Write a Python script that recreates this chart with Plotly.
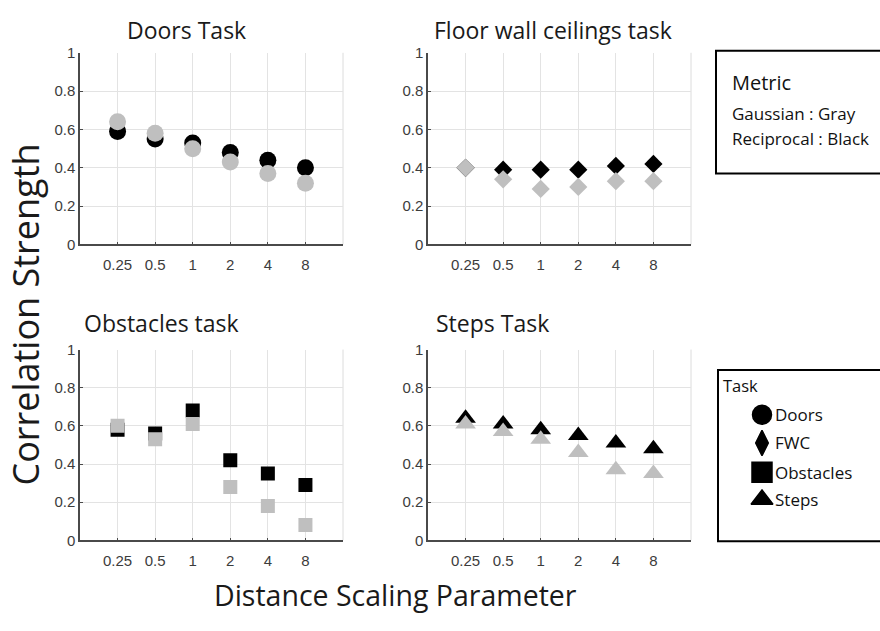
import plotly.graph_objects as go

W, H = 880, 631

# Distance scaling parameter values (x categories)
scales = ["0.25", "0.5", "1", "2", "4", "8"]

# Correlation strength per task: Gaussian (gray) and Reciprocal (black)
doors_gauss = [0.64, 0.58, 0.50, 0.43, 0.37, 0.32]
doors_recip = [0.59, 0.55, 0.53, 0.48, 0.44, 0.40]
fwc_gauss = [0.40, 0.34, 0.29, 0.30, 0.33, 0.33]
fwc_recip = [0.40, 0.39, 0.39, 0.39, 0.41, 0.42]
obs_gauss = [0.60, 0.53, 0.61, 0.28, 0.18, 0.08]
obs_recip = [0.58, 0.56, 0.68, 0.42, 0.35, 0.29]
steps_gauss = [0.61, 0.57, 0.53, 0.46, 0.37, 0.35]
steps_recip = [0.64, 0.61, 0.58, 0.55, 0.51, 0.48]

titles = ["Doors Task", "Floor wall ceilings task", "Obstacles task", "Steps Task"]
task_names = ["Doors", "FWC", "Obstacles", "Steps"]
yticks = [0, 0.2, 0.4, 0.6, 0.8, 1]
ytick_text = ["0", "0.2", "0.4", "0.6", "0.8", "1"]

GRAY = "#bfbfbf"
BLACK = "#000000"
TEXT_FONT = "Open Sans"
TICK_FONT = "Liberation Sans, Arial"

def px_x(p):
    return p / W

def px_y(p):
    return 1 - p / H

# panel boxes in pixels: (left, right, top, bottom)
panels = [
    (80, 343, 45, 242),
    (428, 691, 45, 242),
    (80, 343, 350, 546),
    (428, 691, 350, 546),
]

panel_data = [
    (doors_recip, doors_gauss, "circle", 17),
    (fwc_recip, fwc_gauss, "diamond", 14),
    (obs_recip, obs_gauss, "square", 14),
    (steps_recip, steps_gauss, "triangle-up", 18),
]

fig = go.Figure()
shapes = []
annotations = []

for i, ((l, r, t, b), (recip, gauss, sym, size)) in enumerate(zip(panels, panel_data)):
    n = i + 1
    xa = "x" if n == 1 else f"x{n}"
    ya = "y" if n == 1 else f"y{n}"
    for vals, col in ((recip, BLACK), (gauss, GRAY)):
        fig.add_trace(go.Scatter(
            x=scales, y=vals, mode="markers", xaxis=xa, yaxis=ya,
            marker=dict(symbol=sym, size=size, color=col, line=dict(width=0)),
            showlegend=False, hoverinfo="x+y",
        ))
    axis_common = dict(showgrid=True, gridcolor="#e3e3e3", gridwidth=1,
                       showline=True, linecolor="#4a4a4a", linewidth=1.5,
                       zeroline=False, ticks="inside", ticklen=3,
                       tickcolor="#4a4a4a", tickwidth=1,
                       tickfont=dict(family=TICK_FONT, size=15, color="#3c3c3c"))
    fig.update_layout({
        f"xaxis{'' if n == 1 else n}": dict(
            domain=[px_x(l), px_x(r)], anchor=ya, type="category",
            categoryorder="array", categoryarray=scales, range=[-1, 6],
            ticklabelstandoff=6, **axis_common),
        f"yaxis{'' if n == 1 else n}": dict(
            domain=[px_y(b), px_y(t)], anchor=xa, range=[0, 1],
            tickvals=yticks, ticktext=ytick_text, **axis_common),
    })
    # light frame on the right edge
    shapes.append(dict(type="line", xref=f"{xa} domain", yref=f"{ya} domain",
                       x0=1, x1=1, y0=0, y1=1, layer="below",
                       line=dict(color="#dcdcdc", width=1)))

# panel titles
title_pos = [(125, 22), (432, 22), (82, 323), (434, 323)]
for (tx, ty), txt in zip(title_pos, titles):
    annotations.append(dict(text=txt, x=px_x(tx), y=px_y(ty), xref="paper", yref="paper",
                            xanchor="left", yanchor="middle", showarrow=False,
                            font=dict(family=TEXT_FONT, size=23, color="#1a1a1a")))

# shared axis titles
annotations.append(dict(text="Correlation Strength", x=px_x(26), y=px_y(314),
                        xref="paper", yref="paper", textangle=-90, showarrow=False,
                        xanchor="center", yanchor="middle",
                        font=dict(family=TEXT_FONT, size=36, color="#1a1a1a")))
annotations.append(dict(text="Distance Scaling Parameter", x=px_x(395), y=px_y(602),
                        xref="paper", yref="paper", showarrow=False,
                        xanchor="center", yanchor="middle",
                        font=dict(family=TEXT_FONT, size=28.5, color="#1a1a1a")))

# Metric note box
shapes.append(dict(type="rect", xref="paper", yref="paper",
                   x0=px_x(716), x1=px_x(884), y0=px_y(169), y1=px_y(43),
                   line=dict(color="black", width=2), fillcolor="rgba(0,0,0,0)"))
annotations.append(dict(text="Metric", x=px_x(730), y=px_y(76), xref="paper", yref="paper",
                        xanchor="left", yanchor="middle", showarrow=False,
                        font=dict(family=TEXT_FONT, size=20, color="#111111")))
for txt, ty in (("Gaussian : Gray", 107), ("Reciprocal : Black", 133)):
    annotations.append(dict(text=txt, x=px_x(730), y=px_y(ty), xref="paper", yref="paper",
                            xanchor="left", yanchor="middle", showarrow=False,
                            font=dict(family=TEXT_FONT, size=17, color="#111111")))

# Task legend box
LEG_L, LEG_R, LEG_T, LEG_B = 718, 880, 371, 547
shapes.append(dict(type="rect", xref="paper", yref="paper",
                   x0=px_x(LEG_L), x1=px_x(884), y0=px_y(LEG_B), y1=px_y(LEG_T),
                   line=dict(color="black", width=2), fillcolor="rgba(0,0,0,0)"))
annotations.append(dict(text="Task", x=px_x(721), y=px_y(387), xref="paper", yref="paper",
                        xanchor="left", yanchor="middle", showarrow=False,
                        font=dict(family=TEXT_FONT, size=16.5, color="#111111")))
legend_y = [417, 446, 476, 504]
legend_sym = ["circle", "diamond-tall", "square", "triangle-up"]
legend_size = [19, 18, 20, 19]
for name, ly in zip(task_names, legend_y):
    annotations.append(dict(text=name, x=px_x(773), y=px_y(ly), xref="paper", yref="paper",
                            xanchor="left", yanchor="middle", showarrow=False,
                            font=dict(family=TEXT_FONT, size=17, color="#111111")))

# small pixel-unit axis over the legend box for the legend symbols
fig.add_trace(go.Scatter(
    x=[762] * 4, y=legend_y, mode="markers", xaxis="x5", yaxis="y5",
    marker=dict(symbol=legend_sym, size=legend_size, color="#000000", opacity=1,
                line=dict(width=1.5, color="#000000")),
    opacity=1, showlegend=False, hoverinfo="skip",
))
fig.update_layout(
    xaxis5=dict(domain=[px_x(LEG_L), px_x(LEG_R)], range=[LEG_L, LEG_R],
                visible=False, anchor="y5", fixedrange=True),
    yaxis5=dict(domain=[px_y(LEG_B), px_y(LEG_T)], range=[LEG_B, LEG_T],
                visible=False, anchor="x5", fixedrange=True),
)

fig.update_layout(
    width=W, height=H, margin=dict(l=0, r=0, t=0, b=0),
    paper_bgcolor="white", plot_bgcolor="rgba(0,0,0,0)",
    shapes=shapes, annotations=annotations, showlegend=False,
)

fig.write_html("out.html")
